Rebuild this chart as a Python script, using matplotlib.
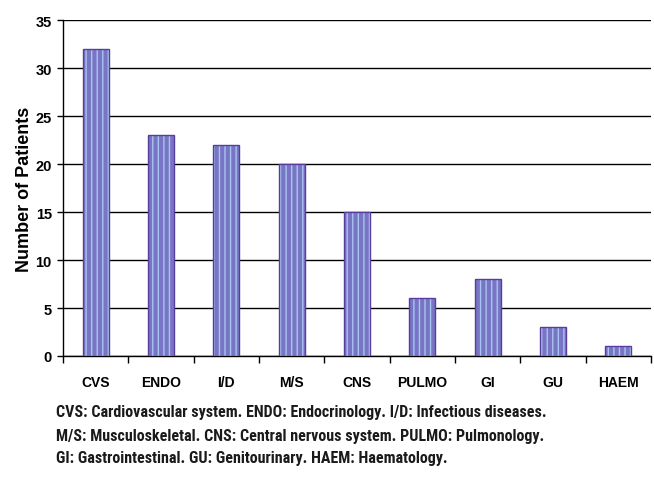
import numpy as np
import matplotlib
matplotlib.use('Agg')
import matplotlib.pyplot as plt
from matplotlib import font_manager

categorie = ['CVS', 'ENDO', 'I/D', 'M/S', 'CNS', 'PULMO', 'GI', 'GU', 'HAEM']
pazienti = [32, 23, 22, 20, 15, 6, 8, 3, 1]
y_ticks = [0, 5, 10, 15, 20, 25, 30, 35]
didascalia = ['CVS: Cardiovascular system. ENDO: Endocrinology. I/D: Infectious diseases.',
              'M/S: Musculoskeletal. CNS: Central nervous system. PULMO: Pulmonology.',
              'GI: Gastrointestinal. GU: Genitourinary. HAEM: Haematology.']

# font condensato se disponibile
nomi = {f.name for f in font_manager.fontManager.ttflist}
font_cap = 'Roboto Condensed' if 'Roboto Condensed' in nomi else 'Lato'
size_cap = 11.5 if font_cap == 'Roboto Condensed' else 9.3

fig = plt.figure(figsize=(6.54, 4.81), dpi=100)
ax = fig.add_axes([0.0963, 0.2578, 0.899, 0.6985])

x = np.arange(len(categorie))
plt.rcParams['hatch.linewidth'] = 1.0
plt.rcParams['hatch.color'] = '#a8c4f0'
ax.bar(x, pazienti, width=0.4, color='#7876c4', hatch='|||', edgecolor='#a8c4f0',
       linewidth=0, zorder=3)
ax.bar(x, pazienti, width=0.4, color='none', edgecolor='#5b3c9e', linewidth=1.0, zorder=4)

ax.set_xlim(-0.5, len(categorie) - 0.5)
ax.set_ylim(0, 35)
ax.set_yticks(y_ticks)
ax.set_yticklabels([str(v) for v in y_ticks], fontsize=10.5, fontweight='bold',
                   family='Liberation Sans')
ax.yaxis.grid(True, color='black', linewidth=1.0, zorder=0)
ax.set_axisbelow(True)

ax.set_xticks(np.arange(len(categorie) + 1) - 0.5)
ax.set_xticklabels([])
ax.set_xticks(x, minor=True)
ax.set_xticklabels(categorie, minor=True, fontsize=10, fontweight='bold',
                   family='Liberation Sans')
ax.tick_params(axis='x', which='minor', length=0, pad=14)
ax.tick_params(axis='x', which='major', length=5, width=1, direction='out')
ax.tick_params(axis='y', length=4, width=1, direction='out', pad=4)

for s in ['top', 'right']:
    ax.spines[s].set_visible(False)
ax.spines['left'].set_linewidth(1)
ax.spines['bottom'].set_linewidth(1)

ax.set_ylabel('Number of Patients', fontsize=13, fontweight='bold',
              family='Liberation Sans', labelpad=2)

for i, riga in enumerate(didascalia):
    fig.text(0.086, 1 - (413 + i * 23) / 481, riga, fontsize=size_cap, fontweight='bold',
             family=[font_cap, 'DejaVu Sans'], va='center', color='#1a1a1a')

plt.savefig('out.png', dpi=100)
